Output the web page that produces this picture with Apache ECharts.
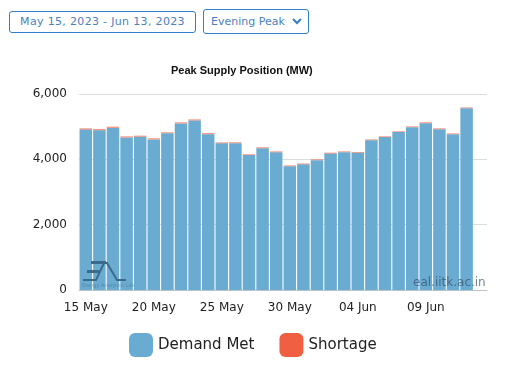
<!DOCTYPE html>
<html><head><meta charset="utf-8">
<script src="https://cdn.jsdelivr.net/npm/echarts@6/dist/echarts.min.js"></script>
<style>
html,body{margin:0;padding:0;background:#fff;overflow:hidden}
#chart{position:absolute;left:0;top:0;width:512px;height:366px}
.btn{position:absolute;box-sizing:border-box;border:1px solid #2f7fc9;border-radius:3px;color:#4a7fc0;font:11px "DejaVu Sans";background:#fff;white-space:nowrap;text-align:center}
</style></head><body>
<div id="chart"></div>
<div class="btn" style="left:9px;top:11px;width:187px;height:22px;line-height:19px;letter-spacing:.33px">May 15, 2023 - Jun 13, 2023</div>
<div class="btn" style="left:203px;top:9px;width:106px;height:25px;line-height:24px;text-align:left;padding-left:7px">Evening Peak<svg width="10" height="7" style="position:absolute;left:88px;top:8px"><path d="M1 1L5 5L9 1" fill="none" stroke="#2f7fc9" stroke-width="2"/></svg></div>
<script>
const categories=['15 May','16 May','17 May','18 May','19 May','20 May','21 May','22 May','23 May','24 May','25 May','26 May','27 May','28 May','29 May','30 May','31 May','01 Jun','02 Jun','03 Jun','04 Jun','05 Jun','06 Jun','07 Jun','08 Jun','09 Jun','10 Jun','11 Jun','12 Jun','13 Jun'];
const demandMet=[4910,4890,4960,4670,4690,4610,4800,5100,5190,4770,4490,4495,4130,4340,4215,3790,3850,3975,4175,4220,4200,4585,4680,4835,4985,5105,4920,4770,5565,null];
const shortage=[40,40,40,35,35,35,30,35,35,35,30,30,25,30,30,25,25,25,30,25,25,25,25,25,25,30,30,25,25,null];
const yTicks=[0,2000,4000,6000];
const c=echarts.init(document.getElementById('chart'),null,{renderer:'canvas'});
const F='"DejaVu Sans"';
const logo='#3b6a8a';
c.setOption({
 animation:false,
 title:{text:'Peak Supply Position (MW)',left:171,top:65,padding:0,textStyle:{fontFamily:'"Liberation Sans"',fontSize:11,fontWeight:'bold',color:'#111'}},
 grid:{left:79,right:25,top:94,height:196,containLabel:false},
 xAxis:{type:'category',data:categories,axisTick:{show:false},
  axisLine:{lineStyle:{color:'#b9c4cc',width:1}},
  axisLabel:{interval:4,color:'#222',fontFamily:F,fontSize:12,margin:12,hideOverlap:false}},
 yAxis:{type:'value',min:yTicks[0],max:yTicks[3],interval:2000,
  axisLine:{show:false},axisTick:{show:false},
  splitLine:{lineStyle:{color:'#dcdcdc',width:1}},
  axisLabel:{color:'#222',fontFamily:F,fontSize:12,margin:12,verticalAlign:'middle',padding:[1,0,0,0],formatter:v=>v.toLocaleString('en-US')}},
 legend:{left:129,top:333,padding:0,itemWidth:24,itemHeight:24,itemGap:25,icon:'roundRect',
  itemStyle:{opacity:1},
  textStyle:{fontFamily:F,fontSize:15,color:'#222'},
  data:['Demand Met','Shortage']},
 series:[
  {name:'Demand Met',type:'bar',stack:'t',data:demandMet,barCategoryGap:'8%',itemStyle:{color:'#6aabd2'}},
  {name:'Shortage',type:'bar',stack:'t',data:shortage,barCategoryGap:'8%',itemStyle:{color:'#f05f42',opacity:.65}}
 ],
 graphic:[
  {type:'polyline',z:100,silent:true,shape:{points:[[83,280],[96,280],[104,263],[107,263],[117,280],[126,280]]},style:{fill:'none',stroke:logo,lineWidth:2}},
  {type:'rect',z:100,silent:true,shape:{x:91,y:261,width:15,height:3},style:{fill:logo}},
  {type:'rect',z:100,silent:true,shape:{x:87,y:270,width:12,height:3},style:{fill:logo}},
  {type:'text',z:100,silent:true,x:82,y:283,style:{text:'Energy Analytics Lab',fontFamily:F,fontSize:5,fill:'rgba(60,100,130,.5)'}},
  {type:'text',z:100,silent:true,x:413,y:277,style:{text:'eal.iitk.ac.in',fontFamily:F,fontSize:12,fill:'rgba(50,80,105,.7)'}}
 ]
});
</script></body></html>
